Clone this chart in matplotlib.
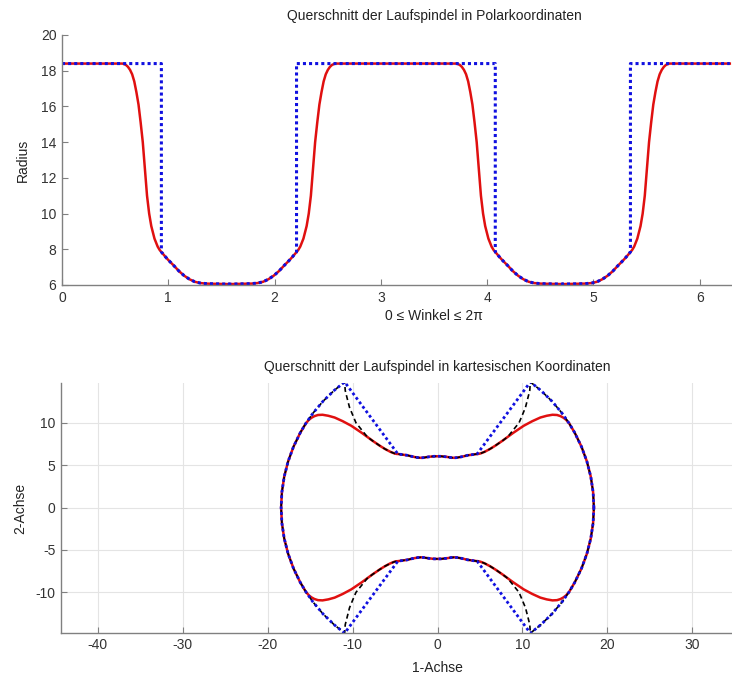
import numpy as np
import matplotlib
matplotlib.use("Agg")
import matplotlib.pyplot as plt

plt.rcParams['font.family'] = ['Liberation Sans', 'DejaVu Sans']
plt.rcParams['axes.unicode_minus'] = False

# one quarter of the profile (0 .. pi/2)
theta_outer = [0.0, 0.1, 0.2, 0.3, 0.4, 0.5, 0.57, 0.65, 0.75, 0.85, 0.935]
theta_inner = [0.935, 0.97, 1.0, 1.05, 1.1, 1.15, 1.2, 1.25, 1.3, 1.35, 1.4, 1.5, 1.5708]
r_inner = [7.85, 7.6, 7.4, 7.1, 6.78, 6.52, 6.32, 6.18, 6.11, 6.08, 6.07, 6.06, 6.05]
r_outer = 18.4

# red, smooth transition
theta_red_trans = [0.6, 0.62, 0.64, 0.66, 0.68, 0.70, 0.72, 0.74, 0.76, 0.78, 0.80,
                   0.82, 0.84, 0.87, 0.90, 0.92]
r_red_trans = [18.33, 18.22, 18.05, 17.8, 17.4, 16.8, 16.1, 15.1, 14.0, 12.5, 11.0,
               10.0, 9.3, 8.6, 8.15, 7.95]

# black dashed, only in the cartesian view
theta_black_trans = [0.904, 0.878, 0.851, 0.83, 0.806, 0.79]
r_black_trans = [17.55, 16.6, 15.7, 14.8, 13.86, 11.75]

# build one quarter of each curve
q_blue_t = theta_outer + theta_inner
q_blue_r = [r_outer] * len(theta_outer) + r_inner

q_red_t = theta_outer[:7] + theta_red_trans + theta_inner
q_red_r = [r_outer] * 7 + r_red_trans + r_inner

q_black_t = theta_outer + theta_black_trans + theta_red_trans[10:] + theta_inner
q_black_r = [r_outer] * len(theta_outer) + r_black_trans + r_red_trans[10:] + r_inner


def full(t, r):
    # the profile is symmetric to both axes
    t = np.array(t)
    r = np.array(r)
    tt = np.concatenate([t, np.pi - t[::-1], np.pi + t, 2 * np.pi - t[::-1]])
    rr = np.concatenate([r, r[::-1], r, r[::-1]])
    return tt, rr


blue_t, blue_r = full(q_blue_t, q_blue_r)
red_t, red_r = full(q_red_t, q_red_r)
black_t, black_r = full(q_black_t, q_black_r)

axis_col = '#808080'
text_col = '#333333'

fig = plt.figure(figsize=(7.32, 6.74), dpi=100)

# top: polar coordinates
ax1 = fig.add_axes([62 / 732, 1 - 285 / 674, 744 / 732, 250 / 674])
ax1.plot(red_t, red_r, color='#e01010', lw=1.8)
ax1.plot(blue_t, blue_r, color='#1010e0', lw=2.2, ls=(0, (1, 1)))
ax1.set_xlim(0, 7)
ax1.set_ylim(6, 20)
ax1.set_xticks(range(0, 7))
ax1.set_yticks(range(6, 21, 2))
ax1.set_title('Querschnitt der Laufspindel in Polarkoordinaten', fontsize=10, pad=11,
              color='#222222')
ax1.set_xlabel('0 ≤ Winkel ≤ 2π', fontsize=10, labelpad=3, color='#222222')
ax1.set_ylabel('Radius', fontsize=10, labelpad=8, color='#222222')

# bottom: cartesian coordinates
ax2 = fig.add_axes([61 / 732, 1 - 632.7 / 674, 753 / 732, 249.4 / 674])
ax2.plot(red_r * np.cos(red_t), red_r * np.sin(red_t), color='#e01010', lw=1.8)
ax2.plot(black_r * np.cos(black_t), black_r * np.sin(black_t), color='black', lw=1.2,
         ls=(0, (3, 2)))
ax2.plot(blue_r * np.cos(blue_t), blue_r * np.sin(blue_t), color='#1010e0', lw=2.0,
         ls=(0, (1, 1)))
ax2.set_xlim(-44.3, 44.3)
ax2.set_ylim(-14.75, 14.65)
ax2.set_xticks(range(-40, 31, 10))
ax2.set_yticks(range(-10, 11, 5))
ax2.grid(True, color='#e4e4e4', lw=0.8)
ax2.set_axisbelow(True)
ax2.set_title('Querschnitt der Laufspindel in kartesischen Koordinaten', fontsize=10,
              pad=9, color='#222222')
ax2.set_xlabel('1-Achse', fontsize=10, labelpad=6, color='#222222')
ax2.set_ylabel('2-Achse', fontsize=10, labelpad=6, color='#222222')

for ax in (ax1, ax2):
    for side in ('top', 'right'):
        ax.spines[side].set_visible(False)
    for side in ('left', 'bottom'):
        ax.spines[side].set_color(axis_col)
        ax.spines[side].set_linewidth(1.0)
    ax.tick_params(direction='in', length=4, width=0.8, color=axis_col,
                   labelsize=10, labelcolor=text_col, pad=4)

fig.savefig('out.png', dpi=100)
